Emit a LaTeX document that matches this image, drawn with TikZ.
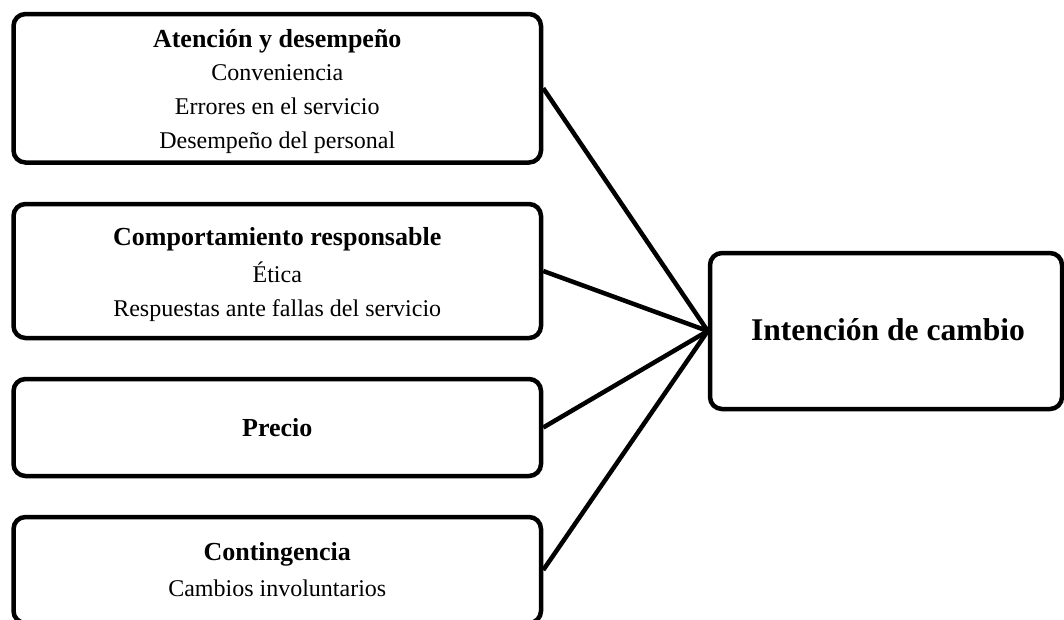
\documentclass[tikz,border=0pt]{standalone}
\usepackage{fontspec}
\setmainfont{Liberation Serif}
\tikzset{
  box/.style={draw=black, line width=4.5pt, rounded corners=12pt, rectangle, inner sep=0pt},
  link/.style={draw=black, line width=4.5pt},
  head/.style={anchor=base, inner sep=0pt, font=\fontsize{26}{30}\selectfont\bfseries},
  item/.style={anchor=base, inner sep=0pt, font=\fontsize{24}{28}\selectfont},
  big/.style={anchor=base, inner sep=0pt, font=\fontsize{31.6}{36}\selectfont\bfseries}
}
\begin{document}
\begin{tikzpicture}[x=1pt,y=-1pt]
\useasboundingbox (0,0) rectangle (1064,619);
\clip (0,0) rectangle (1064,619);
\node[box, minimum width=527.5pt, minimum height=148.5pt] (b1) at (277.25,88.25) {};
\node[box, minimum width=527.5pt, minimum height=134pt] (b2) at (277.25,271) {};
\node[box, minimum width=527.5pt, minimum height=97pt] (b3) at (277.25,427.5) {};
\node[box, minimum width=527.5pt, minimum height=106pt] (b4) at (277.25,570) {};
\node[box, minimum width=352pt, minimum height=156pt] (r) at (886,331) {};

\node[head] (t1) at (277.25,47) {Atención y desempeño};
\node[item] (t1a) at (277.25,80) {Conveniencia};
\node[item] (t1b) at (277.25,114) {Errores en el servicio};
\node[item] (t1c) at (277.25,148) {Desempeño del personal};

\node[head] (t2) at (277.25,245) {Comportamiento responsable};
\node[item] (t2a) at (277.25,282) {Ética};
\node[item] (t2b) at (277.25,316) {Respuestas ante fallas del servicio};

\node[head] (t3) at (277.25,436) {Precio};

\node[head] (t4) at (277.25,560.5) {Contingencia};
\node[item] (t4a) at (277.25,596) {Cambios involuntarios};

\node[big] (tr) at (888,340) {Intención de cambio};

\draw[link] (b1.east) -- (r.west);
\draw[link] (b2.east) -- (r.west);
\draw[link] (b3.east) -- (r.west);
\draw[link] (b4.east) -- (r.west);
\end{tikzpicture}
\end{document}
